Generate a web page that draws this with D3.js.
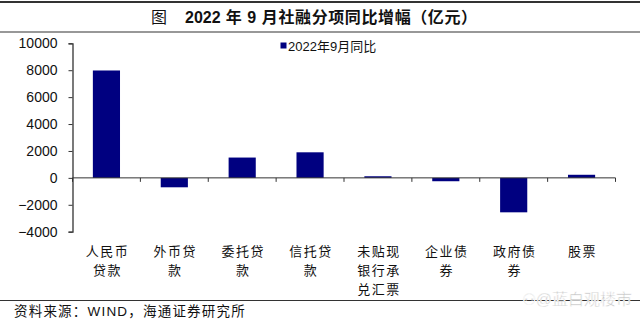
<!DOCTYPE html>
<html>
<head>
<meta charset="utf-8">
<script src="https://cdn.jsdelivr.net/npm/d3@7"></script>
<style>
  body { margin: 0; background: #fff; }
</style>
</head>
<body>
<div id="container"></div>
<script>
// categories, each label split into lines as in the chart
const categories = ['人民币贷款', '外币贷款', '委托贷款', '信托贷款', '未贴现银行承兑汇票', '企业债券', '政府债券', '股票'];
const labelLines = [['人民币', '贷款'], ['外币贷', '款'], ['委托贷', '款'], ['信托贷', '款'], ['未贴现', '银行承', '兑汇票'], ['企业债', '券'], ['政府债', '券'], ['股票']];
const values = [7980, -700, 1510, 1900, 120, -250, -2560, 230];
const yTicks = [-4000, -2000, 0, 2000, 4000, 6000, 8000, 10000];
const seriesName = '2022年9月同比';

const width = 640, height = 322;
const margins = { top: 43.3, bottom: 90.3, left: 72.5, right: 24.5 };
const cjk = '"Liberation Sans", "Noto Sans CJK SC", sans-serif';

const svg = d3.select('#container').append('svg')
    .attr('width', width)
    .attr('height', height)
    .style('display', 'block');

// frame lines
svg.append('line').attr('x1', 0).attr('x2', width).attr('y1', 2).attr('y2', 2)
    .attr('stroke', '#333').attr('stroke-width', 2);
svg.append('line').attr('x1', 0).attr('x2', width).attr('y1', 32).attr('y2', 32)
    .attr('stroke', '#333').attr('stroke-width', 1.2);
svg.append('line').attr('x1', 0).attr('x2', width).attr('y1', 300.5).attr('y2', 300.5)
    .attr('stroke', '#333').attr('stroke-width', 1.2);

// title
const title = svg.append('text')
    .attr('x', 151).attr('y', 23)
    .style('font-family', cjk)
    .style('font-size', '16px')
    .attr('fill', '#111');
title.append('tspan').text('图');
title.append('tspan').attr('x', 185).style('font-weight', 'bold').text('2022');
title.append('tspan').style('letter-spacing', '0.6px').style('font-weight', 'bold')
    .text(' 年 9 月社融分项同比增幅（亿元）');

const xScale = d3.scaleBand()
    .domain(categories)
    .range([margins.left, width - margins.right])
    .paddingInner(0.6)
    .paddingOuter(0.3);

const yScale = d3.scaleLinear()
    .domain([-4000, 10000])
    .range([height - margins.bottom, margins.top]);

// bars
svg.append('g')
    .selectAll('rect')
    .data(values)
    .enter()
    .append('rect')
    .attr('x', (d, i) => xScale(categories[i]))
    .attr('width', xScale.bandwidth())
    .attr('y', d => yScale(Math.max(0, d)))
    .attr('height', d => Math.abs(yScale(d) - yScale(0)))
    .attr('fill', '#000080');

// y axis
const yAxis = d3.axisLeft(yScale)
    .tickValues(yTicks)
    .tickSize(4)
    .tickPadding(11)
    .tickFormat(d3.format('d'));

svg.append('g')
    .attr('transform', `translate(${margins.left}, 0)`)
    .call(yAxis)
    .call(g => g.select('.domain').attr('stroke', '#333').attr('stroke-width', 1.3))
    .call(g => g.selectAll('.tick line').attr('stroke', '#333'))
    .selectAll('text')
    .style('font-family', '"Liberation Sans", Arial, sans-serif')
    .style('font-size', '14px')
    .attr('fill', '#111');

// x axis line at zero with ticks on band edges
const y0 = yScale(0);
const edges = d3.range(categories.length + 1).map(i => xScale.range()[0] + i * xScale.step());
svg.append('line')
    .attr('x1', xScale.range()[0]).attr('x2', xScale.range()[1])
    .attr('y1', y0).attr('y2', y0)
    .attr('stroke', '#333').attr('stroke-width', 1);
svg.append('g')
    .selectAll('line')
    .data(edges)
    .enter()
    .append('line')
    .attr('x1', d => d).attr('x2', d => d)
    .attr('y1', y0).attr('y2', y0 + 4)
    .attr('stroke', '#333');

// category labels
const labels = svg.append('g');
labelLines.forEach((lines, i) => {
    const cx = xScale(categories[i]) + xScale.bandwidth() / 2;
    lines.forEach((t, j) => {
        labels.append('text')
            .attr('x', cx + 1)
            .attr('y', 256 + j * 19)
            .attr('text-anchor', 'middle')
            .style('font-family', '"Noto Sans CJK SC", sans-serif')
            .style('font-size', '13px')
            .style('letter-spacing', '1.5px')
            .attr('fill', '#111')
            .text(t);
    });
});

// legend
svg.append('rect')
    .attr('x', 280.5).attr('y', 42.5)
    .attr('width', 6).attr('height', 6)
    .attr('fill', '#000080');
svg.append('text')
    .attr('x', 288).attr('y', 50.5)
    .style('font-family', cjk)
    .style('font-size', '13px')
    .attr('fill', '#111')
    .text(seriesName);

// source
svg.append('text')
    .attr('x', 14).attr('y', 316)
    .style('font-family', cjk)
    .style('font-size', '13.5px')
    .style('letter-spacing', '1.2px')
    .attr('fill', '#111')
    .text('资料来源：WIND，海通证券研究所');

// watermark
svg.append('text')
    .attr('x', 632).attr('y', 305)
    .attr('text-anchor', 'end')
    .style('font-family', cjk)
    .style('font-size', '16px')
    .attr('fill', '#c4c4c4')
    .attr('stroke', '#ffffff')
    .attr('stroke-width', 0.5)
    .text('⚇@蓝白观楼市');
</script>
</body>
</html>
